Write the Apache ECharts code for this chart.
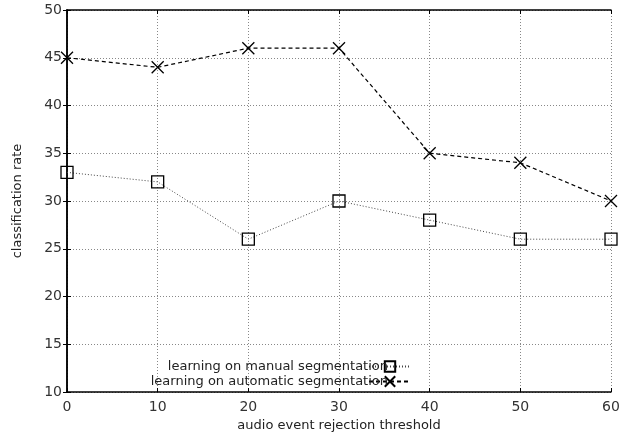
<!DOCTYPE html>
<html><head><meta charset="utf-8">
<script src="https://cdn.jsdelivr.net/npm/echarts@6/dist/echarts.min.js"></script>
<style>html,body{margin:0;padding:0;background:#fff}#c{width:643px;height:439px}</style>
</head><body><div id="c"></div>
<script>
const thresholds = [0, 10, 20, 30, 40, 50, 60];
const manualRates = [33, 32, 26, 30, 28, 26, 26];
const autoRates = [45, 44, 46, 46, 35, 34, 30];
const manualName = 'learning on manual segmentation';
const autoName = 'learning on automatic segmentation';
const xTitle = 'audio event rejection threshold';
const yTitle = 'classification rate';

const font = 'DejaVu Sans';
const chart = echarts.init(document.getElementById('c'));
const crossPath = 'path://M0,0L10,10M10,0L0,10';
const axisCommon = {
  axisLine: {show: true, lineStyle: {color: '#000', width: 1.5}},
  axisTick: {show: true, inside: true, length: 4, lineStyle: {color: '#000'}},
};
const legendText = {fontFamily: font, fontSize: 13, color: '#222', padding: [0, -24, 0, 0]};
chart.setOption({
  animation: false,
  grid: {left: 67, top: 10, right: 32, bottom: 47},
  legend: [
    {data: [manualName], right: 226, top: 355, align: 'right', itemWidth: 42, itemHeight: 13,
     textStyle: legendText, selectedMode: false},
    {data: [autoName], right: 226, top: 370, align: 'right', itemWidth: 42, itemHeight: 13,
     textStyle: legendText, selectedMode: false}
  ],
  xAxis: [
    Object.assign({type: 'value', min: 0, max: 60, interval: 10, position: 'bottom',
      name: xTitle, nameLocation: 'middle', nameGap: 24,
      nameTextStyle: {fontFamily: font, fontSize: 13, color: '#222'},
      axisLabel: {fontFamily: font, fontSize: 14, color: '#333', margin: 8},
      splitLine: {show: true, lineStyle: {color: '#888', type: [1, 2], width: 1}}}, axisCommon),
    Object.assign({type: 'value', min: 0, max: 60, interval: 10, position: 'top',
      axisLabel: {show: false}, splitLine: {show: false}}, axisCommon)
  ],
  yAxis: [
    Object.assign({type: 'value', min: 10, max: 50, interval: 5, position: 'left',
      name: yTitle, nameLocation: 'middle', nameGap: 43, nameRotate: 90,
      nameTextStyle: {fontFamily: font, fontSize: 13, color: '#222'},
      axisLabel: {fontFamily: font, fontSize: 14, color: '#333', margin: 5},
      splitLine: {show: true, lineStyle: {color: '#888', type: [1, 2], width: 1}}}, axisCommon),
    Object.assign({type: 'value', min: 10, max: 50, interval: 5, position: 'right',
      axisLabel: {show: false}, splitLine: {show: false}}, axisCommon)
  ],
  series: [
    {name: manualName, type: 'line', data: thresholds.map((t, i) => [t, manualRates[i]]),
     symbol: 'rect', symbolSize: 12,
     lineStyle: {color: '#444', width: 1, type: [1, 2]},
     itemStyle: {color: 'rgba(255,255,255,0)', borderColor: '#000', borderWidth: 1.3}},
    {name: autoName, type: 'line', data: thresholds.map((t, i) => [t, autoRates[i]]),
     symbol: crossPath, symbolSize: 12,
     lineStyle: {color: '#000', width: 1.2, type: [4, 3]},
     itemStyle: {color: 'rgba(255,255,255,0)', borderColor: '#000', borderWidth: 1.3}}
  ]
});
</script></body></html>
